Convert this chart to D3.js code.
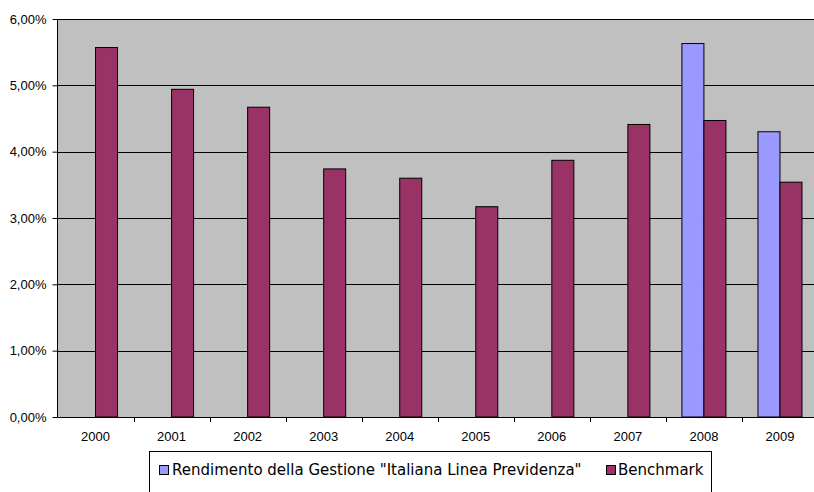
<!DOCTYPE html>
<html><head><meta charset="utf-8">
<script src="https://cdn.jsdelivr.net/npm/d3@7"></script>
<style>body{margin:0;background:#fff}svg{display:block}</style>
</head><body>
<script>
const years = ["2000","2001","2002","2003","2004","2005","2006","2007","2008","2009"];
const rendimento = [null,null,null,null,null,null,null,null,5.63,4.30];
const benchmark = [5.57,4.94,4.67,3.74,3.60,3.17,3.87,4.41,4.47,3.54];
const yTicks = [0,1,2,3,4,5,6];
const seriesNames = ["Rendimento della Gestione \"Italiana Linea Previdenza\"","Benchmark"];
const colors = ["#9999FF","#993366"];

const W=814,H=492;
const svg=d3.select("body").append("svg").attr("width",W).attr("height",H);
const L=57.5,R=818,T=19,B=417;
const x=d3.scaleBand().domain(years).range([L,R]).paddingInner(0).paddingOuter(0);
const y=d3.scaleLinear().domain([0,6]).range([B,T]);
const sub=d3.scaleBand().domain([0,1]).range([0,x.bandwidth()]).paddingInner(0).paddingOuter(0.7273);

svg.append("rect").attr("x",L).attr("y",T).attr("width",R-L).attr("height",B-T).attr("fill","#C0C0C0");
svg.append("g").selectAll("line").data(yTicks.filter(d=>d>0)).join("line")
  .attr("x1",L).attr("x2",R).attr("y1",d=>Math.round(y(d))+0.5).attr("y2",d=>Math.round(y(d))+0.5)
  .attr("stroke","#000").attr("stroke-width",1);

[rendimento,benchmark].forEach((arr,si)=>{
  svg.append("g").selectAll("rect").data(years.map((yr,i)=>({yr,v:arr[i]})).filter(d=>d.v!=null)).join("rect")
    .attr("x",d=>x(d.yr)+sub(si)).attr("width",sub.bandwidth())
    .attr("y",d=>y(d.v)).attr("height",d=>B-y(d.v))
    .attr("fill",colors[si]).attr("stroke","#000").attr("stroke-width",1);
});

const yAxis=svg.append("g").attr("transform",`translate(${L},0)`)
  .call(d3.axisLeft(y).tickValues(yTicks).tickSize(5).tickPadding(6).tickFormat(d=>d.toFixed(2).replace(".",",")+"%"));
yAxis.select(".domain").attr("d",`M0,${T}V${B}`);
yAxis.selectAll("text").attr("font-family","Liberation Sans, Arial").attr("font-size",13).attr("fill","#000");

const xAxis=svg.append("g").attr("transform",`translate(0,${B+0.5})`)
  .call(d3.axisBottom(x).tickSize(0).tickPadding(14));
xAxis.select(".domain").attr("d",`M${L},0H${R}`);
xAxis.selectAll("text").attr("font-family","Liberation Sans, Arial").attr("font-size",13).attr("fill","#000");
svg.append("g").selectAll("line").data(years.slice(1)).join("line")
  .attr("x1",d=>Math.round(x(d))+0.5).attr("x2",d=>Math.round(x(d))+0.5).attr("y1",B).attr("y2",B+5).attr("stroke","#000");

// legend
const lg=svg.append("g");
lg.append("rect").attr("x",149.5).attr("y",451.5).attr("width",562).attr("height",60).attr("fill","#fff").attr("stroke","#000");
const items=[{x:159,tx:172},{x:606,tx:618}];
items.forEach((it,i)=>{
  lg.append("rect").attr("x",it.x+0.5).attr("y",465.5).attr("width",9).attr("height",9).attr("fill",colors[i]).attr("stroke","#000");
  lg.append("text").attr("x",it.tx).attr("y",475).attr("font-family","DejaVu Sans, Verdana").attr("font-size",15).attr("fill","#000").text(seriesNames[i]);
});
</script>
</body></html>
